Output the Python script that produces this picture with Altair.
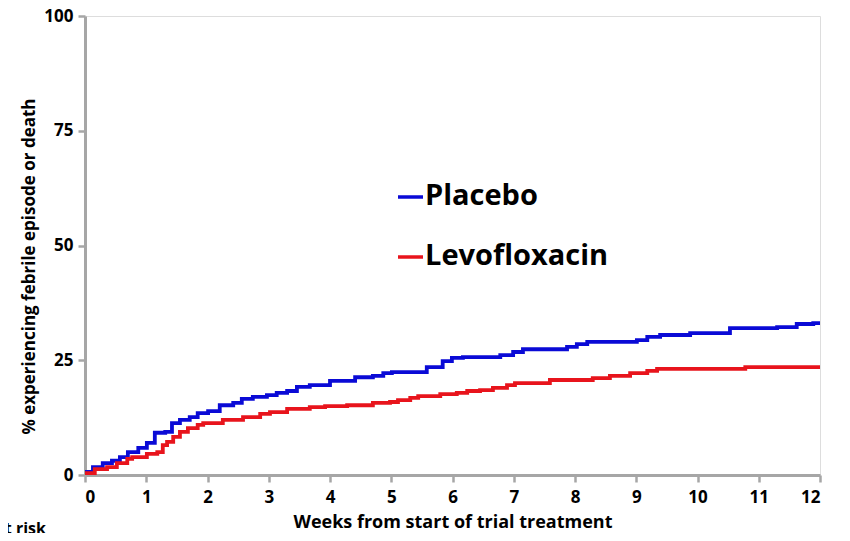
import altair as alt
import pandas as pd

# Kaplan-Meier style step curves (weeks, % experiencing febrile episode or death)
placebo_weeks = [0, 0.13, 0.29, 0.44, 0.57, 0.70, 0.87, 1.01, 1.14, 1.31, 1.42, 1.55, 1.71, 1.84, 2.01,
                 2.20, 2.42, 2.56, 2.74, 2.97, 3.13, 3.30, 3.46, 3.67, 4.00, 4.41, 4.70, 4.87, 5.01,
                 5.58, 5.84, 5.99, 6.17, 6.78, 6.99, 7.15, 7.87, 8.03, 8.20, 9.01, 9.18, 9.39, 9.88,
                 10.53, 11.30, 11.62, 11.89, 12.0]
placebo_pct = [0.7, 1.7, 2.6, 3.1, 3.9, 5.0, 5.9, 7.0, 9.2, 9.4, 11.3, 12.0, 12.6, 13.5, 13.9,
               15.2, 15.7, 16.6, 17.0, 17.4, 17.9, 18.3, 19.2, 19.6, 20.5, 21.3, 21.6, 22.2, 22.4,
               23.5, 24.8, 25.5, 25.7, 26.1, 26.8, 27.4, 27.9, 28.5, 29.0, 29.4, 30.1, 30.5, 30.9,
               32.0, 32.2, 32.9, 33.1, 33.1]

levo_weeks = [0, 0.16, 0.36, 0.52, 0.69, 0.77, 1.01, 1.18, 1.27, 1.34, 1.44, 1.55, 1.68, 1.84, 1.93,
              2.25, 2.58, 2.86, 3.02, 3.30, 3.67, 3.92, 4.28, 4.70, 4.98, 5.11, 5.31, 5.44, 5.80,
              6.07, 6.24, 6.45, 6.66, 6.89, 7.02, 7.59, 8.29, 8.57, 8.90, 9.18, 9.34, 10.78, 12.0]
levo_pct = [0.4, 1.3, 1.7, 2.6, 3.5, 3.9, 4.6, 5.0, 6.5, 7.2, 8.3, 9.4, 10.2, 10.9, 11.3,
            12.0, 12.6, 13.3, 13.7, 14.4, 14.8, 15.0, 15.2, 15.7, 15.9, 16.3, 16.8, 17.2, 17.6,
            17.9, 18.3, 18.5, 19.0, 19.6, 20.0, 20.7, 21.1, 21.6, 22.2, 22.7, 23.1, 23.5, 23.5]

series_names = ["Placebo", "Levofloxacin"]
series_colors = ["#0a0ad6", "#e8141c"]
x_ticks = list(range(0, 13))
y_ticks = [0, 25, 50, 75, 100]

df = pd.concat([
    pd.DataFrame({"week": placebo_weeks, "pct": placebo_pct, "arm": "Placebo"}),
    pd.DataFrame({"week": levo_weeks, "pct": levo_pct, "arm": "Levofloxacin"}),
])

FONT = "Open Sans"

lines = alt.Chart(df).mark_line(interpolate="step-after", strokeWidth=3.8, clip=True).encode(
    x=alt.X("week:Q", scale=alt.Scale(domain=[0, 12], nice=False),
            axis=alt.Axis(values=x_ticks, title="Weeks from start of trial treatment",
                          grid=False, labelFontSize=17, labelFontWeight="bold", labelColor="black",
                          labelPadding=7, tickSize=7, tickWidth=2.5, tickColor="#a6a6a6",
                          domainColor="#a6a6a6", domainWidth=3,
                          titleFontSize=18, titleFontWeight="bold", titleColor="black",
                          titlePadding=8, labelFont=FONT, titleFont=FONT)),
    y=alt.Y("pct:Q", scale=alt.Scale(domain=[0, 100], nice=False),
            axis=alt.Axis(values=y_ticks, title="% experiencing febrile episode or death",
                          grid=False, labelFontSize=17, labelFontWeight="bold", labelColor="black",
                          labelPadding=5, tickSize=7, tickWidth=2.5, tickColor="#a6a6a6",
                          domainColor="#a6a6a6", domainWidth=3,
                          titleFontSize=17, titleFontWeight="bold", titleColor="black",
                          titlePadding=5, titleY=250, labelFont=FONT, titleFont=FONT)),
    color=alt.Color("arm:N", scale=alt.Scale(domain=series_names, range=series_colors), legend=None),
    detail="arm:N",
)

# In-plot legend
leg_y = {"Placebo": 181, "Levofloxacin": 241}

leg_lines = []
leg_texts = []
for name, col in zip(series_names, series_colors):
    ly = leg_y[name]
    leg_lines.append(
        alt.Chart(pd.DataFrame({"a": [name]})).mark_rule(color=col, strokeWidth=3.5).encode(
            x=alt.value(313), x2=alt.value(338), y=alt.value(ly))
    )
    leg_texts.append(
        alt.Chart(pd.DataFrame({"a": [name]})).mark_text(
            font=FONT, fontSize=29, fontWeight="bold", color="black", align="left",
            baseline="middle").encode(
            x=alt.value(340), y=alt.value(ly - 1), text="a:N")
    )

risk = alt.Chart(pd.DataFrame({"t": ["Number at risk"]})).mark_text(
    font=FONT, fontSize=16, fontWeight="bold", color="black", align="right",
    baseline="alphabetic").encode(x=alt.value(-39), y=alt.value(518), text="t:N")

chart = alt.layer(lines, *leg_lines, *leg_texts, risk).properties(
    width=735, height=459,
    autosize=alt.AutoSizeParams(type="none"),
    padding={"left": 77, "top": 8, "right": 22, "bottom": 58},
).configure_view(stroke=None).configure(background="white")

chart.save("out.html", embed_options={"renderer": "svg", "actions": False})
